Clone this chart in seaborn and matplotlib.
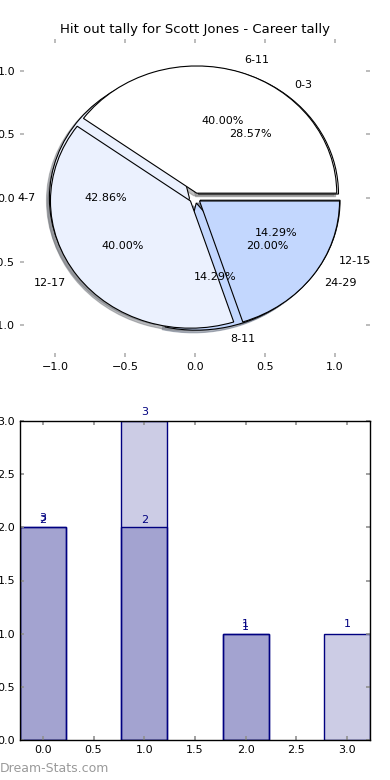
import numpy as np
import matplotlib
matplotlib.use("Agg")
import matplotlib.pyplot as plt
import seaborn as sns

# ---- data ----
title = "Hit out tally for Scott Jones - Career tally"

# pie drawn on top
pie_a_labels = ["6-11", "12-17", "24-29"]
pie_a_values = [2, 2, 1]
# pie drawn underneath
pie_b_labels = ["0-3", "4-7", "8-11", "12-15"]
pie_b_values = [2, 3, 1, 1]

pie_colors = ["#ffffff", "#ebf1fe", "#c3d7fe", "#dfe8fb"]

bar_a_x = [0, 1, 2]
bar_a_values = [2, 2, 1]
bar_a_text = ["2", "2", "1"]
bar_b_x = [0, 1, 2, 3]
bar_b_values = [2, 3, 1, 1]
bar_b_text = ["3", "3", "1", "1"]

navy = "#000080"

plt.rcParams['font.family'] = ['DejaVu Sans']
plt.rcParams['xtick.direction'] = 'in'
plt.rcParams['ytick.direction'] = 'in'
plt.rcParams['xtick.top'] = True
plt.rcParams['ytick.right'] = True

fig = plt.figure(figsize=(3.9, 7.8), dpi=100)

# ---------------- pie ----------------
ax1 = fig.add_axes([20 / 390, 1 - 357 / 780, 350 / 390, 318 / 780])
for vals, labs in [(pie_b_values, pie_b_labels), (pie_a_values, pie_a_labels)]:
    ax1.pie(vals, labels=labs, colors=pie_colors[:len(vals)], autopct='%1.2f%%',
            explode=[0.04] * len(vals),
            shadow={'ox': -0.015, 'oy': -0.015, 'shade': 0.5}, startangle=0,
            pctdistance=0.6, labeldistance=1.1,
            wedgeprops={'edgecolor': 'black', 'linewidth': 0.8},
            textprops={'fontsize': 8})
ax1.set_aspect('auto')
ax1.set_frame_on(False)
ax1.set_xlim(-1.25, 1.25)
ax1.set_ylim(-1.25, 1.25)
ticks = [-1.0, -0.5, 0.0, 0.5, 1.0]
ax1.set_xticks(ticks)
ax1.set_yticks(ticks)
ax1.set_xticklabels([f"{t:.1f}".replace("-", "\u2212") for t in ticks])
ax1.set_yticklabels([f"{t:.1f}".replace("-", "\u2212") for t in ticks])
ax1.tick_params(labelsize=8, color='#b0b0b0', length=3, width=1.2,
                top=True, right=True, direction='in')
ax1.set_title(title, fontsize=9.5, pad=4)

# ---------------- bars ----------------
ax2 = fig.add_axes([20 / 390, 1 - 740 / 780, 350 / 390, 319 / 780])
n0 = len(ax2.patches)
sns.barplot(x=bar_a_x, y=bar_a_values, native_scale=True, width=0.45,
            errorbar=None, saturation=1, color=navy, ax=ax2)
sns.barplot(x=bar_b_x, y=bar_b_values, native_scale=True, width=0.45,
            errorbar=None, saturation=1, color=navy, ax=ax2)
for p in ax2.patches[n0:]:
    p.set_facecolor((0, 0, 0.5, 0.2))
    p.set_edgecolor(navy)
    p.set_linewidth(1)

for x, v, t in zip(bar_a_x, bar_a_values, bar_a_text):
    ax2.text(x, v + 0.02, t, ha='center', va='bottom', color=navy, fontsize=8)
for x, v, t in zip(bar_b_x, bar_b_values, bar_b_text):
    ax2.text(x, v + 0.04, t, ha='center', va='bottom', color=navy, fontsize=8)

ax2.set_xlim(-0.225, 3.225)
ax2.set_ylim(0, 3.0)
ax2.set_xticks(np.arange(0, 3.01, 0.5))
ax2.set_yticks(np.arange(0, 3.01, 0.5))
ax2.set_xticklabels([f"{t:.1f}" for t in np.arange(0, 3.01, 0.5)])
ax2.set_yticklabels([f"{t:.1f}" for t in np.arange(0, 3.01, 0.5)])
ax2.set_xlabel("")
ax2.set_ylabel("")
ax2.tick_params(labelsize=8, color='#909090', length=3, width=1.2,
                top=True, right=True, direction='in')
for s in ax2.spines.values():
    s.set_color('black')
    s.set_linewidth(1)

fig.text(0.0, 0.006, "Dream-Stats.com", color='#9a9a9a', fontsize=9, ha='left', va='bottom')

fig.savefig("out.png", dpi=100)
